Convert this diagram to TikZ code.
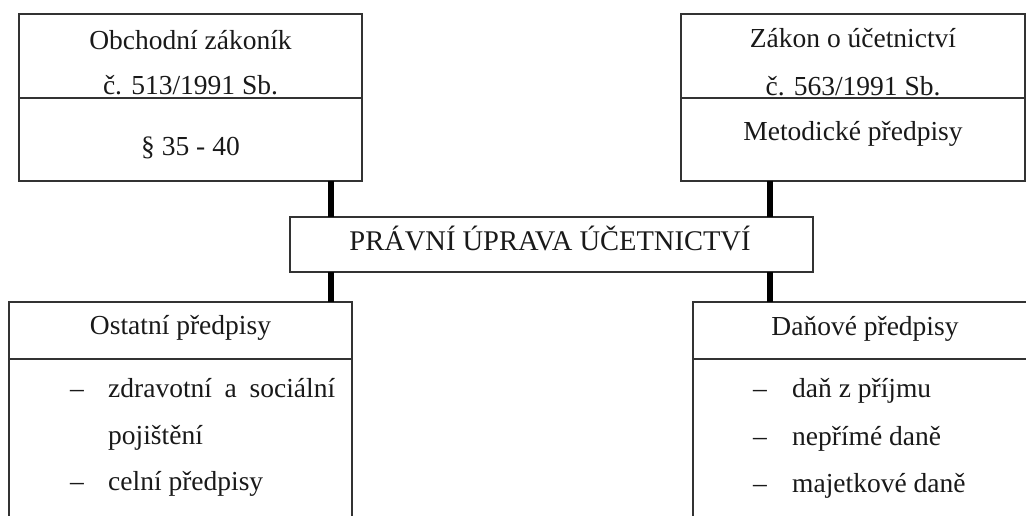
\documentclass[tikz,border=0pt]{standalone}
\usepackage{fontspec}
\setmainfont{Liberation Serif}
\begin{document}
\begin{tikzpicture}[x=1pt,y=-1pt,
  box/.style={draw=black!80, line width=1.4pt, inner sep=0pt, outer sep=0pt},
  conn/.style={line width=6.5pt, black},
  divider/.style={draw=black!80, line width=1.4pt},
  lbl/.style={font=\fontsize{27.5}{33}\selectfont, anchor=base, inner sep=0pt, text=black!90},
  item/.style={lbl, anchor=base west}]
\useasboundingbox (0,0) rectangle (1026,515);
\clip (0,0) rectangle (1026,515);
% boxes
\node[box, minimum width=343pt, minimum height=167pt] (tl) at (190.5,97.5) {};
\node[box, minimum width=344pt, minimum height=167pt] (tr) at (853,97.5) {};
\node[box, minimum width=523pt, minimum height=55pt] (ctr) at (551.5,244.5) {};
\node[box, minimum width=343pt, minimum height=238pt] (bl) at (180.5,421) {};
\node[box, minimum width=347pt, minimum height=238pt] (br) at (866.5,421) {};
% dividers
\draw[divider] (tl.west |- 0,98) -- (tl.east |- 0,98);
\draw[divider] (tr.west |- 0,98) -- (tr.east |- 0,98);
\draw[divider] (bl.west |- 0,359) -- (bl.east |- 0,359);
\draw[divider] (br.west |- 0,359) -- (br.east |- 0,359);
% connectors
\coordinate (jl) at (331,0);
\coordinate (jr) at (770,0);
\draw[conn] (tl.south -| jl) -- (ctr.north -| jl);
\draw[conn] (ctr.south -| jl) -- (bl.north -| jl);
\draw[conn] (tr.south -| jr) -- (ctr.north -| jr);
\draw[conn] (ctr.south -| jr) -- (br.north -| jr);
% texts top-left
\node[lbl] (t1) at (190.5,49) {Obchodní zákoník};
\node[lbl] (t2) at (190.5,94) {č. 513/1991 Sb.};
\node[lbl] (t3) at (190.5,155) {§ 35 - 40};
% texts top-right
\node[lbl] (r1) at (853,47) {Zákon o účetnictví};
\node[lbl] (r2) at (853,95) {č. 563/1991 Sb.};
\node[lbl] (r3) at (853,140) {Metodické předpisy};
% center
\node[lbl, font=\fontsize{28.5}{34}\selectfont] (c1) at (550,250) {PRÁVNÍ ÚPRAVA ÚČETNICTVÍ};
% bottom-left
\node[lbl] (b1) at (180.5,334) {Ostatní předpisy};
\node[lbl] (bd1) at (77,397) {–};
\node[item] (bi1) at (108,397) {\makebox[227pt][s]{zdravotní a sociální}};
\node[item] (bi2) at (108,444) {pojištění};
\node[lbl] (bd2) at (77,490) {–};
\node[item] (bi3) at (108,490) {celní předpisy};
% bottom-right
\node[lbl] (d1) at (865,335) {Daňové předpisy};
\node[lbl] (dd1) at (760,397) {–};
\node[item] (di1) at (792,397) {daň z příjmu};
\node[lbl] (dd2) at (760,445) {–};
\node[item] (di2) at (792,445) {nepřímé daně};
\node[lbl] (dd3) at (760,492) {–};
\node[item] (di3) at (792,492) {majetkové daně};
\end{tikzpicture}
\end{document}
